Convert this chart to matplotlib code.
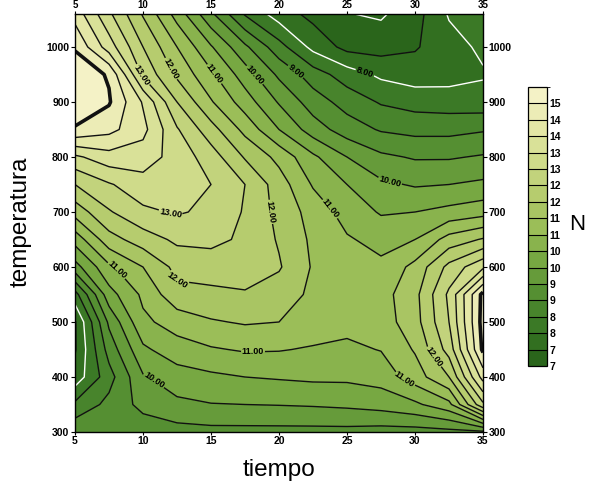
import matplotlib

matplotlib.use("Agg")

import matplotlib.pyplot as plt
import numpy as np
from matplotlib.cm import ScalarMappable
from matplotlib.colors import BoundaryNorm, LinearSegmentedColormap

plt.rcParams["font.family"] = ["Liberation Sans", "DejaVu Sans"]

# --- datos: N medido en la malla tiempo x temperatura -----------------
tiempo = [5, 7.5, 10, 12.5, 15, 17.5, 20, 22.5, 25, 27.5, 30, 32.5, 35]
temperatura = [300, 350, 400, 450, 500, 550, 600, 650, 700,
               750, 800, 850, 900, 950, 1000, 1060]

# una fila por temperatura (de 300 a 1060), una columna por tiempo
N_malla = [
    [9.40, 9.10, 9.20, 9.30, 9.35, 9.35, 9.35, 9.35, 9.35, 9.30, 9.30, 9.35, 9.40],
    [8.60, 9.15, 9.65, 9.90, 9.98, 10.0, 10.02, 10.05, 10.1, 10.2, 10.4, 10.85, 12.9],
    [7.70, 8.80, 9.95, 10.25, 10.4, 10.5, 10.55, 10.6, 10.6, 10.7, 11.25, 12.0, 14.2],
    [7.45, 9.20, 10.4, 10.8, 10.95, 11.05, 11.03, 10.95, 10.9, 11.02, 11.55, 12.7, 15.1],
    [7.45, 9.60, 10.9, 11.2, 11.45, 11.55, 11.5, 11.3, 11.15, 11.25, 11.8, 13.0, 15.2],
    [8.30, 10.3, 11.1, 11.85, 11.9, 11.95, 11.75, 11.4, 11.25, 11.3, 11.85, 13.1, 15.15],
    [9.80, 10.9, 11.5, 12.15, 12.2, 12.25, 12.05, 11.45, 11.15, 11.1, 11.65, 12.65, 13.4],
    [10.7, 11.8, 12.25, 12.6, 12.65, 12.4, 11.95, 11.4, 11.05, 10.85, 11.0, 11.7, 12.05],
    [11.7, 12.45, 12.9, 13.05, 12.9, 12.45, 11.85, 11.3, 10.8, 10.45, 10.5, 10.65, 10.8],
    [12.5, 12.95, 13.3, 13.35, 13.0, 12.5, 11.75, 10.95, 10.5, 10.1, 9.95, 10.0, 10.1],
    [13.4, 13.8, 13.75, 13.3, 12.75, 11.95, 11.35, 10.6, 10.0, 9.6, 9.45, 9.45, 9.55],
    [14.95, 14.65, 14.15, 13.05, 12.2, 11.35, 10.5, 9.75, 9.25, 8.95, 8.85, 8.85, 8.95],
    [15.35, 15.05, 13.95, 12.5, 11.55, 10.75, 9.95, 9.25, 8.8, 8.45, 8.3, 8.25, 8.2],
    [15.3, 14.95, 12.9, 11.9, 11.1, 10.25, 9.4, 8.75, 8.25, 7.9, 7.75, 7.8, 7.95],
    [14.95, 13.75, 12.5, 11.5, 10.55, 9.6, 8.7, 7.85, 7.35, 7.3, 7.45, 7.8, 8.1],
    [14.3, 13.1, 11.95, 10.8, 9.6, 8.45, 7.75, 7.35, 7.02, 6.93, 7.3, 8.05, 8.4],
]

niveles = np.arange(7.0, 15.51, 0.5)
ticks_tiempo = [5, 10, 15, 20, 25, 30, 35]
ticks_temp = [300, 400, 500, 600, 700, 800, 900, 1000]

# etiquetas de isolineas: nivel -> posiciones aproximadas (tiempo, temperatura)
etiquetas = {
    13.0: [(9.8, 947), (12.0, 695)],
    12.0: [(12.1, 961), (19.3, 700), (12.0, 568), (31.3, 435)],
    11.0: [(15.3, 952), (23.5, 700), (8.2, 597), (18.1, 433), (29.3, 399)],
    10.0: [(18.2, 949), (28.0, 740), (10.7, 390)],
    9.0: [(21.3, 958)],
    8.0: [(26.3, 952)],
}

# --- estilo -------------------------------------------------------------
verdes = ["#2a651b", "#3b7a26", "#569032", "#78a842", "#9cbe58",
          "#b6cc6e", "#cfdb8a", "#e4e7a6", "#f4f2c6"]
cmap = LinearSegmentedColormap.from_list("verdes", verdes)
cmap.set_under(verdes[0])
cmap.set_over(verdes[-1])
norm = BoundaryNorm(niveles, cmap.N)


def estilo_linea(v):
    color = "white" if (np.isclose(v, 7.0) or np.isclose(v, 8.0)) else "#111111"
    ancho = 2.6 if np.isclose(v, 15.0) else 1.0
    return color, ancho


fig = plt.figure(figsize=(5.95, 5.0), dpi=100)
ax = fig.add_axes([75 / 595, 68 / 500, 408 / 595, 418 / 500])

X, Y = np.meshgrid(tiempo, temperatura)
Z = np.array(N_malla)

ax.contourf(X, Y, Z, levels=niveles, cmap=cmap, norm=norm, extend="both")

# isolineas sin etiqueta en un solo trazo, las etiquetadas una por una
sin_etiqueta = [v for v in niveles if not any(np.isclose(v, k) for k in etiquetas)]
estilos = [estilo_linea(v) for v in sin_etiqueta]
ax.contour(X, Y, Z, levels=sin_etiqueta, colors=[c for c, _ in estilos],
           linewidths=[w for _, w in estilos])

for nivel, pos in etiquetas.items():
    color, ancho = estilo_linea(nivel)
    cs = ax.contour(X, Y, Z, levels=[nivel], colors=[color], linewidths=[ancho])
    txts = cs.clabel(manual=pos, fmt="%.2f", fontsize=6.5, inline=True,
                     inline_spacing=1)
    for t in txts:
        t.set_fontweight("bold")
        t.set_color("black")

ax.set_xlim(5, 35)
ax.set_ylim(300, 1060)
ax.set_xticks(ticks_tiempo)
ax.set_yticks(ticks_temp)
ax.tick_params(axis="both", which="both", direction="out", length=3,
               width=0.8, labelsize=7.5, pad=1,
               top=True, labeltop=True, right=True, labelright=True)
for tick in ax.xaxis.get_major_ticks() + ax.yaxis.get_major_ticks():
    tick.label1.set_fontweight("bold")
    tick.label2.set_fontweight("bold")
# numeros del eje superior pegados al borde de la figura
for tick in ax.xaxis.get_major_ticks():
    tick.label2.set_fontsize(7)
ax.tick_params(axis="x", which="major", top=True, length=2.5, pad=0.5)
for sp in ax.spines.values():
    sp.set_linewidth(1.0)

fig.text(279 / 595, 1 - 470 / 500, "tiempo", ha="center", va="center",
         fontsize=17.5)
fig.text(21 / 595, 1 - 222 / 500, "temperatura", ha="center", va="center",
         rotation=90, fontsize=17.5)
fig.text(577 / 595, 1 - 224 / 500, "N", ha="center", va="center",
         fontsize=16)

# barra de colores
cax = fig.add_axes([528 / 595, 134 / 500, 19 / 595, 279 / 500])
sm = ScalarMappable(norm=norm, cmap=cmap)
cb = fig.colorbar(sm, cax=cax, drawedges=True, ticks=niveles[:-1])
cb.ax.set_yticklabels([str(int(v)) for v in niveles[:-1]],
                      fontsize=7.5, fontweight="bold")
cb.ax.tick_params(length=0, pad=2)
cb.outline.set_linewidth(0.9)
cb.dividers.set_color("black")
cb.dividers.set_linewidth(0.8)

fig.savefig("out.png", dpi=100)
